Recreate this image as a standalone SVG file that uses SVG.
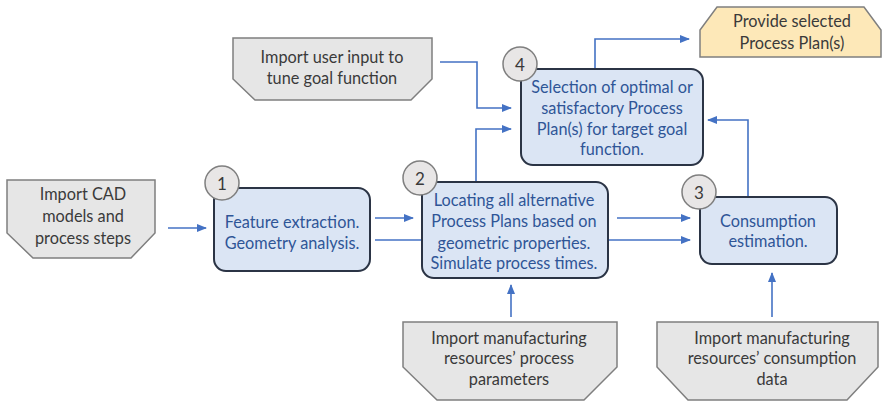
<svg xmlns="http://www.w3.org/2000/svg" width="882" height="402" viewBox="0 0 882 402">
<style>
.bg{fill:#ffffff}
.proc{fill:#dbe5f4;stroke:#2b3445;stroke-width:2}
.io{fill:#e6e6e6;stroke:#7f7f7f;stroke-width:1.5}
.out{fill:#fde8b8;stroke:#7f7f7f;stroke-width:1.5}
.badge{fill:#e8e6e6;stroke:#7f7f7f;stroke-width:1.5}
.conn{fill:none;stroke:#4472c4;stroke-width:1.6}
.t{font-family:Lato,"Open Sans","Liberation Sans",sans-serif;font-size:16.3px;text-anchor:middle;dominant-baseline:central}
.tb{fill:#2f5597}
.tg{fill:#3a3a3a}
.tn{font-family:Lato,"Open Sans","Liberation Sans",sans-serif;font-size:17px;text-anchor:middle;dominant-baseline:central;fill:#3a3a3a}
</style>
<defs>
<marker id="ah" markerWidth="10" markerHeight="8" refX="9" refY="4" orient="auto" markerUnits="userSpaceOnUse">
<path d="M0,0 L10,4 L0,8 z" fill="#4472c4"/>
</marker>
</defs>
<rect class="bg" x="0" y="0" width="882" height="402"/>
<g id="connectors">
<line class="conn" x1="168" y1="228" x2="206" y2="228" marker-end="url(#ah)"/>
<line class="conn" x1="375" y1="218" x2="413" y2="218" marker-end="url(#ah)"/>
<line class="conn" x1="375" y1="240" x2="690" y2="240" marker-end="url(#ah)"/>
<line class="conn" x1="617" y1="218" x2="690" y2="218" marker-end="url(#ah)"/>
<polyline class="conn" points="476,182 476,129 511,129" marker-end="url(#ah)"/>
<polyline class="conn" points="440,62 477,62 477,108 511,108" marker-end="url(#ah)"/>
<polyline class="conn" points="748,197 748,120 708,120" marker-end="url(#ah)"/>
<polyline class="conn" points="595,69 595,39 689,39" marker-end="url(#ah)"/>
<line class="conn" x1="511" y1="317" x2="511" y2="285" marker-end="url(#ah)"/>
<line class="conn" x1="772" y1="317" x2="772" y2="273" marker-end="url(#ah)"/>
</g>
<g id="import-cad">
<path class="io" d="M7,180 H155 V233 L131,258 H33 L7,233 Z"/>
<text class="t tg" x="83" y="193">Import CAD</text>
<text class="t tg" x="83" y="215">models and</text>
<text class="t tg" x="83" y="237">process steps</text>
</g>
<g id="import-user">
<path class="io" d="M233,38 H432 V79 L411,100 H255 L233,79 Z"/>
<text class="t tg" x="332" y="56">Import user input to</text>
<text class="t tg" x="332" y="77">tune goal function</text>
</g>
<g id="provide">
<path class="out" d="M717,7 H864 L881,30 V57 H700 V30 Z"/>
<text class="t tg" x="792" y="20">Provide selected</text>
<text class="t tg" x="792" y="42">Process Plan(s)</text>
</g>
<g id="import-params">
<path class="io" d="M403,322 H617 V367 L584,400 H437 L403,367 Z"/>
<text class="t tg" x="509" y="337">Import manufacturing</text>
<text class="t tg" x="509" y="357">resources’ process</text>
<text class="t tg" x="509" y="378">parameters</text>
</g>
<g id="import-consumption">
<path class="io" d="M657,322 H878 V367 L847,400 H688 L657,367 Z"/>
<text class="t tg" x="772" y="337">Import manufacturing</text>
<text class="t tg" x="772" y="357">resources’ consumption</text>
<text class="t tg" x="772" y="378">data</text>
</g>
<g id="step1">
<rect class="proc" x="214" y="188" width="156" height="83" rx="12"/>
<text class="t tb" x="292" y="221">Feature extraction.</text>
<text class="t tb" x="292" y="242">Geometry analysis.</text>
<circle class="badge" cx="222" cy="183" r="17"/>
<text class="tn" x="222" y="183">1</text>
</g>
<g id="step2">
<rect class="proc" x="422" y="182" width="186" height="96" rx="12"/>
<text class="t tb" x="514" y="199">Locating all alternative</text>
<text class="t tb" x="514" y="220">Process Plans based on</text>
<text class="t tb" x="514" y="242">geometric properties.</text>
<text class="t tb" x="514" y="262">Simulate process times.</text>
<circle class="badge" cx="420" cy="178" r="17"/>
<text class="tn" x="420" y="178">2</text>
</g>
<g id="step3">
<rect class="proc" x="700" y="197" width="137" height="67" rx="12"/>
<text class="t tb" x="768" y="220">Consumption</text>
<text class="t tb" x="768" y="240">estimation.</text>
<circle class="badge" cx="699" cy="192" r="17"/>
<text class="tn" x="699" y="192">3</text>
</g>
<g id="step4">
<rect class="proc" x="521" y="69" width="182" height="96" rx="12"/>
<text class="t tb" x="612" y="86">Selection of optimal or</text>
<text class="t tb" x="612" y="107">satisfactory Process</text>
<text class="t tb" x="612" y="128">Plan(s) for target goal</text>
<text class="t tb" x="612" y="148">function.</text>
<circle class="badge" cx="520" cy="64" r="17"/>
<text class="tn" x="520" y="64">4</text>
</g>
</svg>
